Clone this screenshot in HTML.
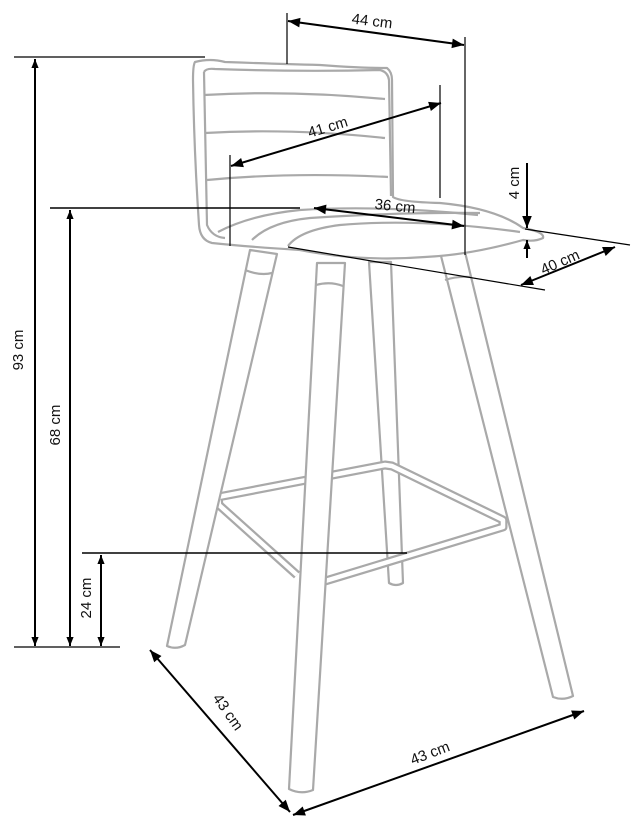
<!DOCTYPE html>
<html><head><meta charset="utf-8"><style>
html,body{margin:0;padding:0;background:#fff;}
svg{display:block;}
text{font-family:"Liberation Sans",sans-serif;font-size:15px;fill:#111;}
</style></head><body>
<svg width="631" height="818" viewBox="0 0 631 818" xmlns="http://www.w3.org/2000/svg">
<defs>
<marker id="a" viewBox="0 0 10 10" refX="10" refY="5" markerWidth="9" markerHeight="9" orient="auto-start-reverse" markerUnits="userSpaceOnUse"><path d="M0,1 L10,5 L0,9 Z" fill="#000"/></marker>
<marker id="b" viewBox="0 0 10 10" refX="10" refY="5" markerWidth="14" markerHeight="12" orient="auto-start-reverse" markerUnits="userSpaceOnUse"><path d="M0,1 L10,5 L0,9 Z" fill="#000"/></marker>
</defs>
<g fill="#fff" stroke="#a9a9a9" stroke-width="2.2" stroke-linejoin="round">
<path d="M369,262 L391,262 L403,583 Q396,587 389,583 Z"/>
<polyline points="297,575 219,505 218,497 385,465 392,466 503,520 503,527 322,582" fill="none" stroke="#a9a9a9" stroke-width="9"/>
<polyline points="297,575 219,505 218,497 385,465 392,466 503,520 503,527 322,582" fill="none" stroke="#fff" stroke-width="4.5"/>
<path d="M250,250 L277,254 L185,645 Q176,650 167,646 Z"/>
<path d="M245,270 Q260,276 272,273" fill="none"/>
<path d="M317,263 L345,263 L313,790 Q301,795 289,789 Z"/>
<path d="M316,285 Q330,281 343,286" fill="none"/>
<path d="M440,252 L465,252 L573,696 Q563,701 553,697 Z"/>
<path d="M445,280 Q457,276 470,277" fill="none"/>
<path d="M195,62 Q210,58 225,62 Q280,64 320,65 Q360,68 387,68 Q392,72 392,80 L393,197 Q400,202 440,203 Q495,208 523,228 Q545,232 543,238 Q535,242 523,240 Q470,255 425,257 Q360,262 300,250 Q250,247 212,243 Q200,240 199,225 Q194,150 193,80 Q193,65 195,62 Z"/>
<path d="M204,72 Q206,68 215,69 Q300,72 380,70 Q388,72 389,80 L391,196" fill="none"/>
<path d="M204,72 L207,225 Q212,237 225,238" fill="none"/>
<path d="M204,95 Q290,90 385,99" fill="none"/>
<path d="M205,133 Q290,128 385,138" fill="none"/>
<path d="M207,180 Q290,172 388,177" fill="none"/>
<path d="M218,232 Q250,215 300,210 Q380,205 478,215" fill="none"/>
<path d="M252,240 Q270,222 310,218 Q400,212 480,213" fill="none"/>
<path d="M288,246 Q300,230 340,225 Q420,218 520,232" fill="none"/>
</g>
<g stroke="#000" stroke-width="1.2" fill="none">
<line x1="14" y1="57" x2="205" y2="57"/>
<line x1="14" y1="647" x2="120" y2="647"/>
<line x1="35" y1="59" x2="35" y2="646" stroke-width="2" marker-start="url(#a)" marker-end="url(#a)"/>
<line x1="50" y1="208" x2="300" y2="208" stroke-width="1.6"/>
<line x1="70" y1="210" x2="70" y2="646" stroke-width="2" marker-start="url(#a)" marker-end="url(#a)"/>
<line x1="82" y1="553" x2="407" y2="553" stroke-width="1.6"/>
<line x1="101" y1="555" x2="101" y2="646" stroke-width="2" marker-start="url(#a)" marker-end="url(#a)"/>
<line x1="287" y1="13" x2="287" y2="64"/>
<line x1="465" y1="37" x2="465" y2="255"/>
<line x1="288" y1="21" x2="464" y2="45" stroke-width="2" marker-start="url(#b)" marker-end="url(#b)"/>
<line x1="230" y1="155" x2="230" y2="246"/>
<line x1="440" y1="85" x2="440" y2="198"/>
<line x1="231" y1="166" x2="441" y2="103" stroke-width="2" marker-start="url(#b)" marker-end="url(#b)"/>
<line x1="314" y1="208" x2="464" y2="226" stroke-width="2" marker-start="url(#b)" marker-end="url(#b)"/>
<line x1="527" y1="163" x2="527" y2="228" stroke-width="2" marker-end="url(#b)"/>
<line x1="527" y1="258" x2="527" y2="240" stroke-width="2" marker-end="url(#a)"/>
<line x1="525" y1="229" x2="630" y2="245"/>
<line x1="288" y1="247" x2="545" y2="290"/>
<line x1="521" y1="285" x2="615" y2="247" stroke-width="2" marker-start="url(#b)" marker-end="url(#b)"/>
<line x1="150" y1="650" x2="290" y2="812" stroke-width="2" marker-start="url(#b)" marker-end="url(#b)"/>
<line x1="293" y1="815" x2="584" y2="711" stroke-width="2" marker-start="url(#b)" marker-end="url(#b)"/>
</g>
<text x="372" y="26" text-anchor="middle" transform="rotate(7 372 22)">44 cm</text>
<text x="328" y="132" text-anchor="middle" transform="rotate(-17 328 128)">41 cm</text>
<text x="395" y="211" text-anchor="middle" transform="rotate(6 395 207)">36 cm</text>
<text x="514" y="188" text-anchor="middle" transform="rotate(-90 514 183)">4 cm</text>
<text x="560" y="267" text-anchor="middle" transform="rotate(-24 560 262)">40 cm</text>
<text x="18" y="355" text-anchor="middle" transform="rotate(-90 18 350)">93 cm</text>
<text x="55" y="430" text-anchor="middle" transform="rotate(-90 55 425)">68 cm</text>
<text x="86" y="603" text-anchor="middle" transform="rotate(-90 86 598)">24 cm</text>
<text x="228" y="717" text-anchor="middle" transform="rotate(55 228 712)">43 cm</text>
<text x="430" y="758" text-anchor="middle" transform="rotate(-21 430 753)">43 cm</text>
</svg>
</body></html>
